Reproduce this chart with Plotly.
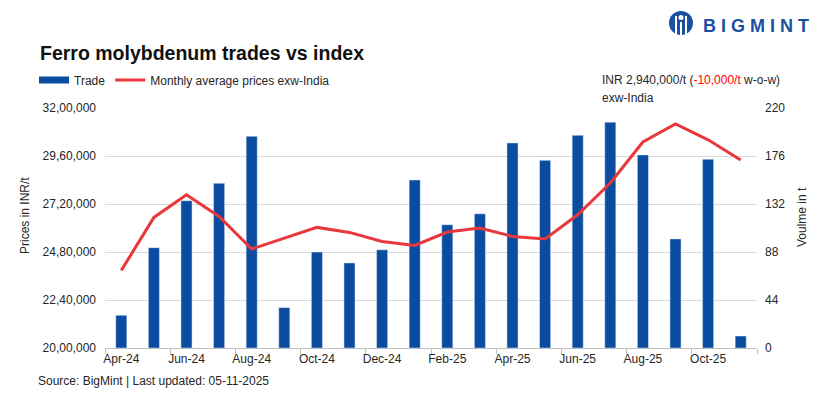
import plotly.graph_objects as go

# ---------------- data ----------------
months = ["Apr-24", "May-24", "Jun-24", "Jul-24", "Aug-24", "Sep-24", "Oct-24", "Nov-24",
          "Dec-24", "Jan-25", "Feb-25", "Mar-25", "Apr-25", "May-25", "Jun-25", "Jul-25",
          "Aug-25", "Sep-25", "Oct-25", "Nov-25"]
trade_volume = [30, 92, 135, 151, 194, 37, 88, 78, 90, 154,
                113, 123, 188, 172, 195, 207, 177, 100, 173, 11]
price_index = [2388000, 2653000, 2766000, 2658000, 2495000, 2550000, 2603000, 2578000,
               2533000, 2513000, 2580000, 2600000, 2558000, 2545000, 2666000, 2825000,
               3030000, 3120000, 3041000, 2940000]
price_ticks = [2000000, 2240000, 2480000, 2720000, 2960000, 3200000]
price_tick_labels = ["20,00,000", "22,40,000", "24,80,000", "27,20,000", "29,60,000", "32,00,000"]
volume_ticks = [0, 44, 88, 132, 176, 220]

x_pos = list(range(len(months)))

# ---------------- layout helpers ----------------
W, H = 819, 399
L, R, T, B = 105, 62, 108, 51
PW, PH = W - L - R, H - T - B


def px(xp):
    return (xp - L) / PW


def py(yp):
    return (H - B - yp) / PH


BLUE = "#0a4ca0"
RED = "#e8383b"
FONT = "Liberation Sans, Arial, sans-serif"
TXT = "#262626"

fig = go.Figure()

fig.add_trace(go.Bar(
    x=x_pos, y=trade_volume, name="Trade", marker_color=BLUE,
    width=0.34, showlegend=False, legendgroup="trade", yaxis="y",
    hovertemplate="%{customdata}: %{y} t<extra>Trade</extra>",
    customdata=months,
))
# legend entry for bars drawn as a wide swatch
fig.add_trace(go.Scatter(
    x=[None], y=[None], mode="lines", name="Trade", legendgroup="trade",
    line=dict(color=BLUE, width=7), yaxis="y", hoverinfo="skip",
))
fig.add_trace(go.Scatter(
    x=x_pos, y=price_index, mode="lines", name="Monthly average prices exw-India",
    line=dict(color=RED, width=3), yaxis="y2", customdata=months,
    hovertemplate="%{customdata}: INR %{y:,}/t<extra></extra>",
))

fig.update_layout(
    width=W, height=H,
    margin=dict(l=L, r=R, t=T, b=B),
    paper_bgcolor="white", plot_bgcolor="white",
    font=dict(family=FONT, size=12, color=TXT),
    showlegend=True,
    legend=dict(
        orientation="h", xref="paper", yref="paper",
        x=px(34), xanchor="left", y=py(80), yanchor="middle",
        font=dict(size=12, color=TXT),
        bgcolor="rgba(0,0,0,0)", traceorder="normal", itemclick=False, itemdoubleclick=False,
    ),
    xaxis=dict(
        range=[-0.5, len(months) - 0.5],
        tickmode="array", tickvals=x_pos[::2], ticktext=months[::2],
        ticks="", showgrid=False, zeroline=False,
        showline=True, linecolor="#bfbfbf", linewidth=1,
        tickfont=dict(size=12, color=TXT),
        minor=dict(tickmode="array", tickvals=[i - 0.5 for i in range(0, len(months) + 1, 2)],
                   ticks="outside", ticklen=5, tickcolor="#bfbfbf", tickwidth=1, showgrid=False),
    ),
    yaxis=dict(
        side="right", range=[0, 220], tickmode="array", tickvals=volume_ticks,
        showgrid=True, gridcolor="#d9d9d9", gridwidth=1, zeroline=False, ticks="",
        tickfont=dict(size=12, color=TXT), ticklabelstandoff=7,
    ),
    yaxis2=dict(
        overlaying="y", side="left", range=[2000000, 3200000],
        tickmode="array", tickvals=price_ticks, ticktext=price_tick_labels,
        showgrid=False, zeroline=False, ticks="",
        tickfont=dict(size=12, color=TXT), ticklabelstandoff=8,
    ),
    bargap=0.66,
)

ann = [
    dict(text="<b>Ferro molybdenum trades vs index</b>", x=px(38), y=py(52.5),
         xanchor="left", yanchor="middle", font=dict(size=19.5, color="#111111")),
    dict(text="INR 2,940,000/t (<span style='color:#ff0000'>-10,000/t</span> w-o-w)",
         x=px(600), y=py(80), xanchor="left", yanchor="middle", font=dict(size=12, color=TXT)),
    dict(text="exw-India", x=px(600), y=py(98), xanchor="left", yanchor="middle",
         font=dict(size=12, color=TXT)),
    dict(text="Prices in INR/t", x=px(25), y=py(216), textangle=-90,
         xanchor="center", yanchor="middle", font=dict(size=12, color=TXT)),
    dict(text="Voulme in t", x=px(802), y=py(217), textangle=-90,
         xanchor="center", yanchor="middle", font=dict(size=12, color=TXT)),
    dict(text="Source: BigMint | Last updated: 05-11-2025", x=px(36), y=py(381),
         xanchor="left", yanchor="middle", font=dict(size=12, color=TXT)),
    dict(text="<b>B I G M I N T</b>", x=px(701), y=py(25.5), xanchor="left", yanchor="middle",
         font=dict(size=18, color="#1b4fa0")),
]
for a in ann:
    a.update(xref="paper", yref="paper", showarrow=False)
fig.update_layout(annotations=ann)

# logo icon
LOGO = "#1b4fa0"
shapes = [
    dict(type="circle", x0=px(669), x1=px(693), y0=py(35), y1=py(11), fillcolor=LOGO,
         line=dict(width=0)),
    dict(type="circle", x0=px(678.5), x1=px(683.5), y0=py(20), y1=py(15), fillcolor="white",
         line=dict(width=0)),
    dict(type="rect", x0=px(675), x1=px(677), y0=py(35), y1=py(16), fillcolor="white",
         line=dict(width=0)),
    dict(type="rect", x0=px(685), x1=px(687), y0=py(35), y1=py(16), fillcolor="white",
         line=dict(width=0)),
    dict(type="rect", x0=px(680), x1=px(682), y0=py(35), y1=py(22), fillcolor="white",
         line=dict(width=0)),
]
for s in shapes:
    s.update(xref="paper", yref="paper", layer="above")
fig.update_layout(shapes=shapes)

fig.write_html(
    "out.html",
    config={"displayModeBar": False},
    post_script="document.body.style.margin='0';document.body.style.overflow='hidden';",
)
